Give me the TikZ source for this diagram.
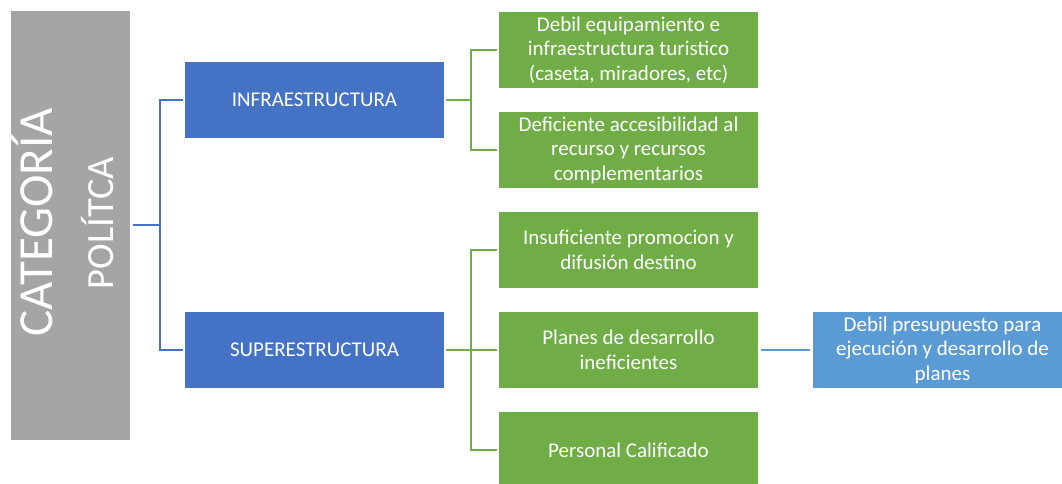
\documentclass[tikz,border=0pt]{standalone}
\usepackage{fontspec}
\setmainfont{Carlito}
\begin{document}
\begin{tikzpicture}[x=1pt,y=-1pt,
  box/.style={draw=none,text=white,align=center,inner sep=2pt,
    minimum width=259pt,minimum height=76pt,font=\fontsize{21}{24.5}\selectfont},
  gbox/.style={box,fill=grn},
  bbox/.style={box,fill=blu,font=\fontsize{21}{24}\selectfont},
  lbbox/.style={box,fill=lblu},
  bline/.style={draw=blu,line width=2pt},
  gline/.style={draw=grn,line width=2pt},
  lline/.style={draw=lblu,line width=2pt},
  title/.style={text=white,rotate=90,anchor=base,inner sep=0pt}
]
\definecolor{gry}{HTML}{A5A5A5}
\definecolor{blu}{HTML}{4472C4}
\definecolor{grn}{HTML}{70AD47}
\definecolor{lblu}{HTML}{5B9BD5}
\useasboundingbox (0,0) rectangle (1062,483);

\node[fill=gry,minimum width=119pt,minimum height=429pt,inner sep=0pt] (cat) at (70.5,225) {};
\node[title,font=\fontsize{49}{49}\selectfont] (t1) at (52,222) {CATEGORÍA};
\node[title,font=\fontsize{38.5}{38.5}\selectfont] (t2) at (113,223) {POLÍTCA};

\node[bbox] (inf) at (314.5,100) {INFRAESTRUCTURA};
\node[bbox] (sup) at (314.5,350) {SUPERESTRUCTURA};

\node[gbox] (g1) at (628.5,50) {Debil equipamiento e\\infraestructura turistico\\(caseta, miradores, etc)};
\node[gbox] (g2) at (628.5,150) {Deficiente accesibilidad al\\recurso y recursos\\complementarios};
\node[gbox] (g3) at (628.5,250) {Insuficiente promocion y\\difusión destino};
\node[gbox] (g4) at (628.5,350) {Planes de desarrollo\\ineficientes};
\node[gbox] (g5) at (628.5,450) {Personal Calificado};

\node[lbbox] (lb) at (942.5,350) {Debil presupuesto para\\ejecución y desarrollo de\\planes};

% connectors
\draw[bline] ([xshift=3pt]cat.east) -- ++(27,0) coordinate (j1);
\draw[bline,shorten >=2pt] (j1) |- (inf.west);
\draw[bline,shorten >=2pt] (j1) |- (sup.west);

\draw[gline] ([xshift=2pt]inf.east) -- ++(25,0) coordinate (j2);
\draw[gline,shorten >=2pt] (j2) |- (g1.west);
\draw[gline,shorten >=2pt] (j2) |- (g2.west);

\draw[gline] ([xshift=2pt]sup.east) -- ++(25,0) coordinate (j3);
\draw[gline,shorten >=2pt] (j3) |- (g3.west);
\draw[gline,shorten >=2pt] (j3) |- (g4.west);
\draw[gline,shorten >=2pt] (j3) |- (g5.west);

\draw[lline,shorten <=3pt,shorten >=3pt] (g4.east) -- (lb.west);
\end{tikzpicture}
\end{document}
